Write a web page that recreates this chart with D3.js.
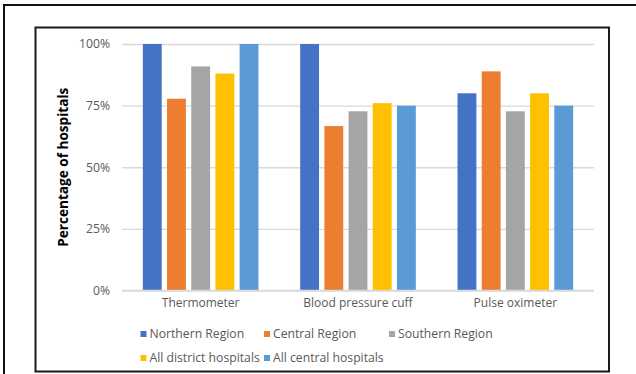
<!DOCTYPE html>
<html>
<head>
<meta charset="utf-8">
<script src="https://cdn.jsdelivr.net/npm/d3@7"></script>
<style>
  html, body { margin: 0; padding: 0; background: #fff; }
  svg { display: block; }
</style>
</head>
<body>
<script>
// Equipment availability by hospital group
const categories = ["Thermometer", "Blood pressure cuff", "Pulse oximeter"];
const seriesNames = ["Northern Region", "Central Region", "Southern Region",
                     "All district hospitals", "All central hospitals"];
const northern = [100, 100, 80];
const central = [77.8, 66.7, 88.9];
const southern = [90.9, 72.7, 72.7];
const allDistrict = [88, 76, 80];
const allCentral = [100, 75, 75];
const yTicks = [0, 25, 50, 75, 100];
const colors = ["#4472C4", "#ED7D31", "#A5A5A5", "#FFC000", "#5B9BD5"];

const seriesValues = [northern, central, southern, allDistrict, allCentral];

const W = 636, H = 374;
const svg = d3.select("body").append("svg").attr("width", W).attr("height", H);
const font = "'Open Sans', 'Noto Sans', sans-serif";

// Frames
svg.append("path").attr("d", `M4,${H} V5 H${W}`)
  .attr("fill", "none").attr("stroke", "#111").attr("stroke-width", 2);
svg.append("rect").attr("x", 35.5).attr("y", 27.5).attr("width", 573.5).attr("height", 344)
  .attr("fill", "none").attr("stroke", "#1a1a1a").attr("stroke-width", 2);

const plot = { left: 122, right: 594, top: 44, bottom: 290.5 };

const y = d3.scaleLinear().domain([0, 100]).range([plot.bottom, plot.top]);
const x0 = d3.scaleBand().domain(categories).range([plot.left, plot.right])
  .paddingInner(0.265).paddingOuter(0.1325);
const x1 = d3.scaleBand().domain(seriesNames).range([0, x0.bandwidth()]).paddingInner(0.22);

// Gridlines
const yAxis = d3.axisLeft(y).tickValues(yTicks).tickSize(-(plot.right - plot.left))
  .tickFormat(d => d + "%").tickPadding(12);
const gy = svg.append("g").attr("transform", `translate(${plot.left},0)`).call(yAxis);
gy.select(".domain").remove();
gy.selectAll(".tick line").attr("stroke", "#d9d9d9").attr("stroke-width", 1.3);
gy.selectAll(".tick text").attr("fill", "#595959").style("font-family", font)
  .style("font-size", "12.2px");

// Bars
const groups = svg.append("g").selectAll("g").data(categories).join("g")
  .attr("transform", c => `translate(${x0(c)},0)`);
groups.selectAll("rect")
  .data((c, ci) => seriesNames.map((s, si) => ({ s, si, v: seriesValues[si][ci] })))
  .join("rect")
  .attr("x", d => x1(d.s))
  .attr("width", x1.bandwidth())
  .attr("y", d => y(d.v))
  .attr("height", d => y(0) - y(d.v))
  .attr("fill", d => colors[d.si]);

// Category labels
const xAxis = d3.axisBottom(x0).tickSize(0).tickPadding(8);
const gx = svg.append("g").attr("transform", `translate(0,${plot.bottom})`).call(xAxis);
gx.select(".domain").remove();
svg.append("line").attr("x1", plot.left).attr("x2", plot.right)
  .attr("y1", plot.bottom).attr("y2", plot.bottom).attr("stroke", "#d9d9d9").attr("stroke-width", 1.3);
gx.selectAll(".tick text").attr("fill", "#595959").style("font-family", font)
  .style("font-size", "12px");

// Axis title
svg.append("text")
  .attr("transform", `translate(67.5,${(plot.top + plot.bottom) / 2}) rotate(-90)`)
  .attr("text-anchor", "middle")
  .style("font-family", font).style("font-size", "13.6px").style("font-weight", "bold")
  .attr("fill", "#000")
  .text("Percentage of hospitals");

// Legend
const legendPos = [
  [140.5, 337.5], [264, 337.5], [389, 337.5],
  [140.5, 361.5], [264, 361.5]
];
const lg = svg.append("g").selectAll("g").data(seriesNames).join("g")
  .attr("transform", (d, i) => `translate(${legendPos[i][0]},${legendPos[i][1]})`);
lg.append("rect").attr("x", 0).attr("y", -6.5).attr("width", 6).attr("height", 6)
  .attr("fill", (d, i) => colors[i]);
lg.append("text").attr("x", 9).attr("y", 0)
  .style("font-family", font).style("font-size", "12.2px").attr("fill", "#595959")
  .text(d => d);
</script>
</body>
</html>
